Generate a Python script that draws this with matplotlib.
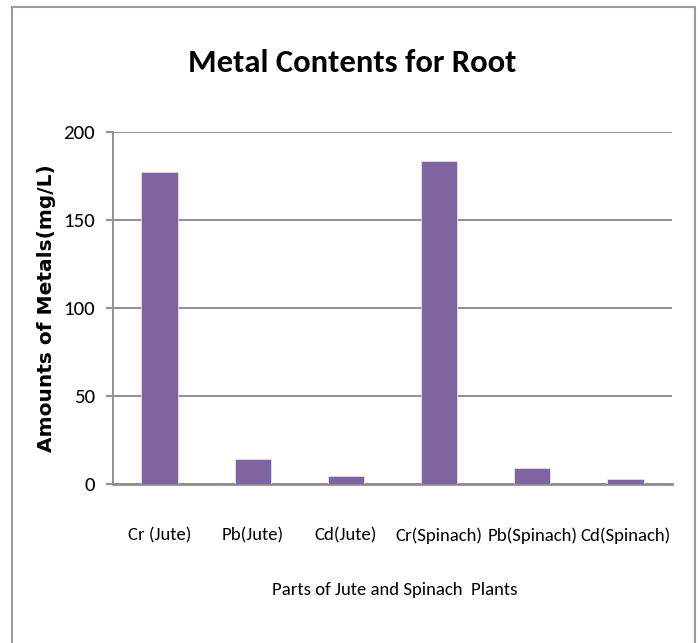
import matplotlib.pyplot as plt
import matplotlib.patches as patches
import numpy as np

# data
categories = ['Cr (Jute)', 'Pb(Jute)', 'Cd(Jute)', 'Cr(Spinach)', 'Pb(Spinach)', 'Cd(Spinach)']
root_metals = [177, 14.2, 4.5, 183.6, 9.1, 2.6]
y_ticks = [0, 50, 100, 150, 200]

narrow = ['Carlito', 'DejaVu Sans']

fig = plt.figure(figsize=(6.98, 6.43), dpi=100)
ax = fig.add_axes([0.1619, 0.2473, 0.8009, 0.5479])

x = np.arange(len(categories))
ax.bar(x, root_metals, width=0.39, color='#8064A2', edgecolor='#e4e0ea', linewidth=0.6, zorder=3)

ax.set_xlim(-0.5, len(categories) - 0.5)
ax.set_ylim(0, 200)
ax.set_yticks(y_ticks)
ax.set_yticklabels([str(t) for t in y_ticks], family=narrow, fontsize=15)
ax.set_xticks(x)
ax.set_xticklabels(categories, family=narrow, fontsize=13.5)

ax.yaxis.grid(True, color='#8f8f8f', linewidth=1.4, zorder=0)
ax.tick_params(axis='y', length=5, color='#8f8f8f', width=1.4, pad=8)
ax.tick_params(axis='x', length=0, pad=31)

for side in ['top', 'right']:
    ax.spines[side].set_visible(False)
ax.spines['left'].set_color('#8f8f8f')
ax.spines['left'].set_linewidth(1.4)
ax.spines['bottom'].set_color('#8f8f8f')
ax.spines['bottom'].set_linewidth(2)

fig.text(0.504, 0.902, 'Metal Contents for Root', ha='center', va='center',
         family=narrow, fontweight='bold', fontsize=23.5)
fig.text(0.566, 0.082, 'Parts of Jute and Spinach  Plants', ha='center', va='center',
         family=narrow, fontsize=13.5)
fig.text(0.067, 0.521, 'Amounts of Metals(mg/L)', ha='center', va='center',
         rotation=90, fontweight='bold', fontsize=14.5)

# thin grey frame around the chart
fig.patches.append(patches.Rectangle((12 / 698, -0.05), 683 / 698, 1.05 - 7 / 643,
                                     transform=fig.transFigure, fill=False,
                                     edgecolor='#9a9a9a', linewidth=1.5))

fig.savefig('out.png', dpi=100)
